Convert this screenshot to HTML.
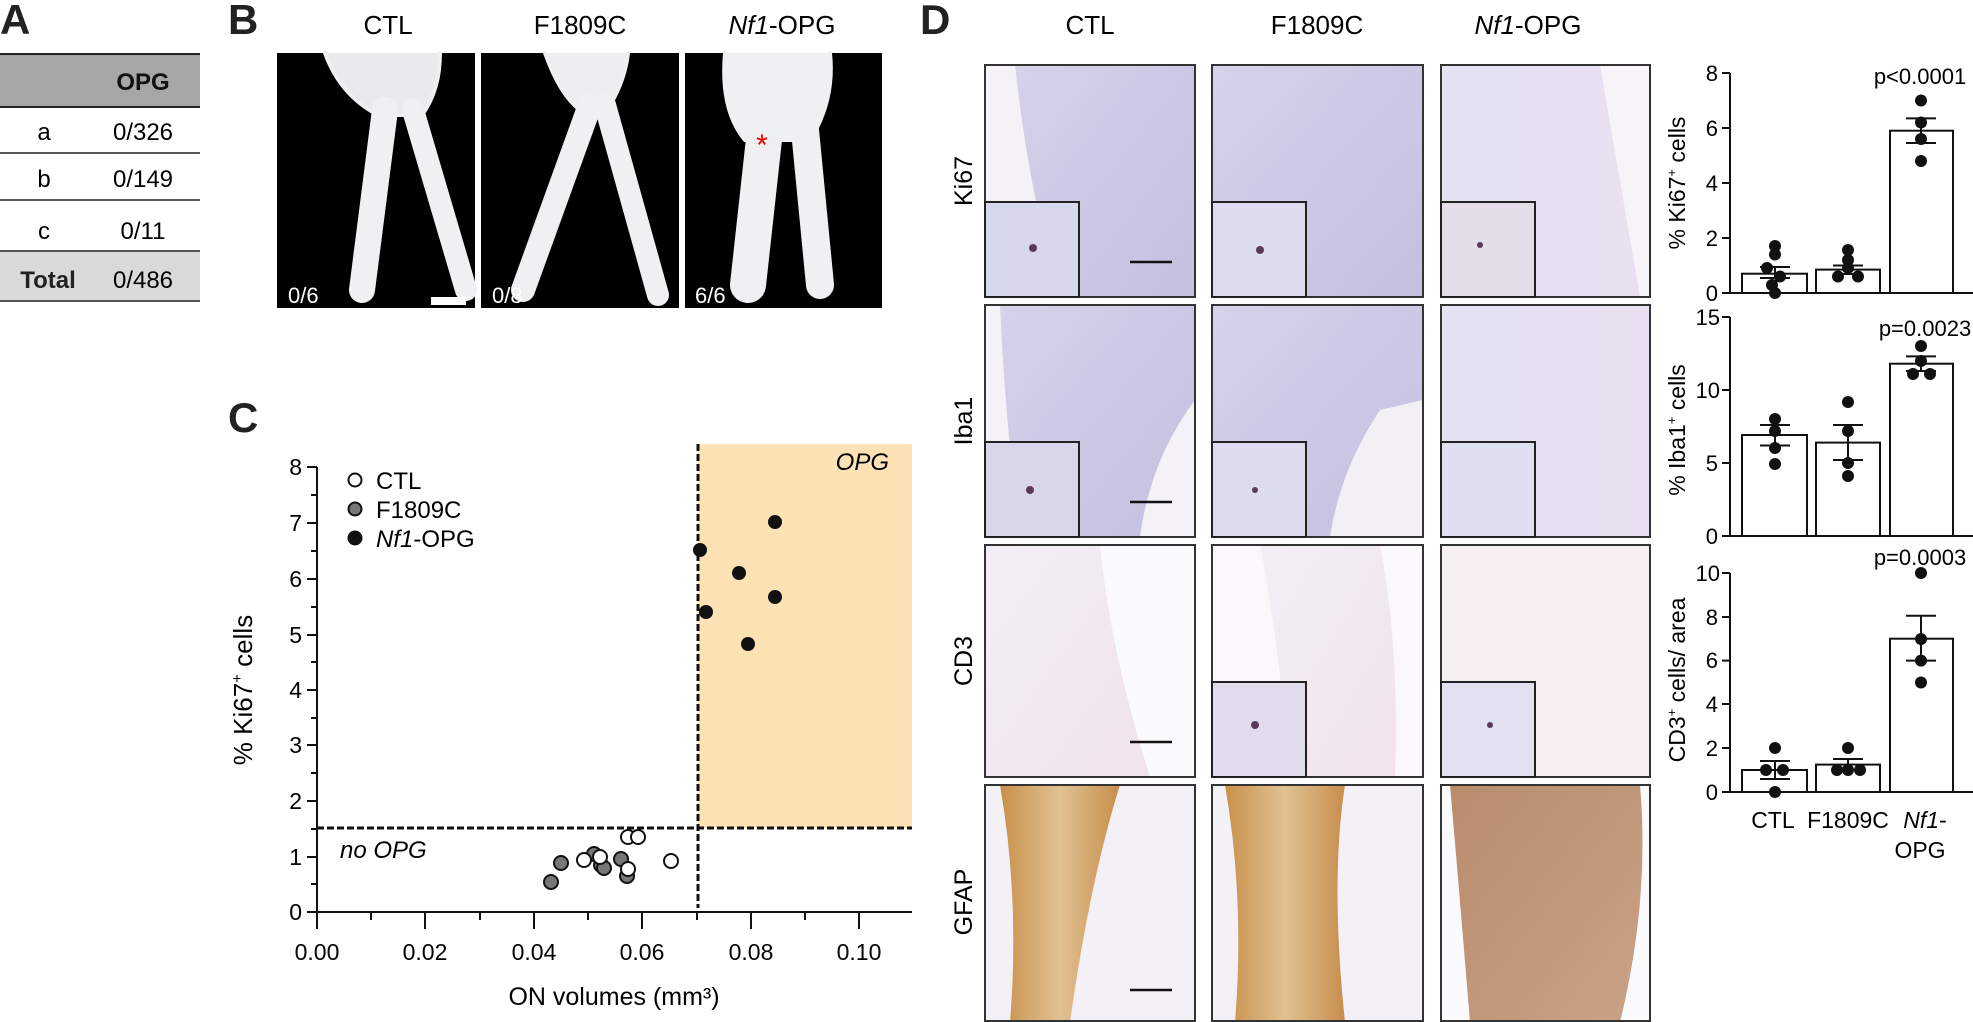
<!DOCTYPE html>
<html><head><meta charset="utf-8"><style>
html,body{margin:0;padding:0;background:#fff;}
svg{display:block;font-family:"Liberation Sans",Arial,sans-serif;}
</style></head><body>
<svg width="1973" height="1022" viewBox="0 0 1973 1022" xmlns="http://www.w3.org/2000/svg">
<defs>
<linearGradient id="lav" x1="0" y1="0" x2="1" y2="1"><stop offset="0" stop-color="#d6d2ea"/><stop offset="1" stop-color="#c3bfdf"/></linearGradient>
<linearGradient id="lav3" x1="0" y1="0" x2="1" y2="0"><stop offset="0" stop-color="#e3e3f2"/><stop offset="1" stop-color="#eadff0"/></linearGradient>
<linearGradient id="pinkw" x1="0" y1="0" x2="1" y2="1"><stop offset="0" stop-color="#f3eef6"/><stop offset="1" stop-color="#f1e3ea"/></linearGradient>
<linearGradient id="brown" x1="0" y1="0" x2="1" y2="0"><stop offset="0" stop-color="#c8904a"/><stop offset="0.5" stop-color="#e0c193"/><stop offset="1" stop-color="#c88e4c"/></linearGradient>
<linearGradient id="brown3" x1="0" y1="0" x2="1" y2="1"><stop offset="0" stop-color="#b98c6c"/><stop offset="1" stop-color="#c9a286"/></linearGradient>
</defs>

<!-- Panel A -->
<text x="0" y="34" font-size="42" font-weight="bold" fill="#222">A</text>
<rect x="0" y="54" width="200" height="53" fill="#a6a6a6"/>
<line x1="0" y1="54" x2="200" y2="54" stroke="#222" stroke-width="2"/>
<line x1="0" y1="107" x2="200" y2="107" stroke="#222" stroke-width="2"/>
<text x="143" y="90" font-size="24" font-weight="bold" text-anchor="middle" fill="#111">OPG</text>
<text x="44" y="140" font-size="24" text-anchor="middle">a</text><text x="143" y="140" font-size="24" text-anchor="middle">0/326</text>
<line x1="0" y1="153" x2="200" y2="153" stroke="#222" stroke-width="1.5"/>
<text x="44" y="187" font-size="24" text-anchor="middle">b</text><text x="143" y="187" font-size="24" text-anchor="middle">0/149</text>
<line x1="0" y1="200" x2="200" y2="200" stroke="#222" stroke-width="1.5"/>
<text x="44" y="239" font-size="24" text-anchor="middle">c</text><text x="143" y="239" font-size="24" text-anchor="middle">0/11</text>
<rect x="0" y="251" width="200" height="50" fill="#d9d9d9"/>
<line x1="0" y1="251" x2="200" y2="251" stroke="#222" stroke-width="1.5"/>
<line x1="0" y1="301" x2="200" y2="301" stroke="#222" stroke-width="1.5"/>
<text x="48" y="288" font-size="24" font-weight="bold" text-anchor="middle" fill="#222">Total</text><text x="143" y="288" font-size="24" text-anchor="middle">0/486</text>

<!-- Panel B -->
<text x="228" y="34" font-size="42" font-weight="bold" fill="#222">B</text>
<text x="388" y="34" font-size="26" text-anchor="middle">CTL</text>
<text x="580" y="34" font-size="26" text-anchor="middle">F1809C</text>
<text x="782" y="34" font-size="26" text-anchor="middle"><tspan font-style="italic">Nf1</tspan>-OPG</text>
<rect x="277" y="53" width="198" height="255" fill="#000"/>
<rect x="481" y="53" width="198" height="255" fill="#000"/>
<rect x="685" y="53" width="197" height="255" fill="#000"/>
<g fill="none" stroke="#eef0f2" stroke-linecap="round">
<path d="M325 53 Q 340 95 378 115 L 422 115 Q 440 90 440 53" fill="#e8eaec" stroke-width="4"/>
<path d="M385 110 L 362 290" stroke-width="26"/>
<path d="M413 110 L 466 290" stroke-width="22"/>
<path d="M545 53 Q 560 95 580 110 L 610 105 Q 625 80 628 53" fill="#eceeef" stroke-width="4"/>
<path d="M590 105 L 523 290" stroke-width="24"/>
<path d="M605 105 L 658 295" stroke-width="22"/>
<path d="M725 53 Q 720 110 745 140 L 810 140 Q 835 100 830 53" fill="#eef0f1" stroke-width="4"/>
<path d="M765 130 L 748 285" stroke-width="36"/>
<path d="M805 130 L 820 285" stroke-width="28"/>
</g>
<text x="762" y="155" font-size="30" fill="#e00" text-anchor="middle">*</text>
<rect x="431" y="297" width="35" height="8" fill="#fff"/>
<text x="288" y="303" font-size="22" fill="#fff">0/6</text>
<text x="492" y="303" font-size="22" fill="#fff">0/8</text>
<text x="695" y="303" font-size="22" fill="#fff">6/6</text>

<!-- Panel C -->
<text x="228" y="432" font-size="42" font-weight="bold" fill="#222">C</text>
<rect x="698" y="444" width="214" height="384" fill="#fde2b6"/>
<text x="889" y="470" font-size="24" font-style="italic" text-anchor="end">OPG</text>
<line x1="317" y1="828" x2="912" y2="828" stroke="#111" stroke-width="3" stroke-dasharray="7,3"/>
<line x1="698" y1="444" x2="698" y2="908" stroke="#111" stroke-width="3" stroke-dasharray="7,3"/>
<g stroke="#111" stroke-width="2">
<line x1="317" y1="467" x2="317" y2="912"/><line x1="307" y1="912" x2="912" y2="912"/>
<line x1="307" y1="467" x2="317" y2="467"/><line x1="307" y1="523" x2="317" y2="523"/><line x1="307" y1="579" x2="317" y2="579"/><line x1="307" y1="635" x2="317" y2="635"/><line x1="307" y1="690" x2="317" y2="690"/><line x1="307" y1="745" x2="317" y2="745"/><line x1="307" y1="801" x2="317" y2="801"/><line x1="307" y1="857" x2="317" y2="857"/>
<line x1="311" y1="495" x2="317" y2="495"/><line x1="311" y1="551" x2="317" y2="551"/><line x1="311" y1="607" x2="317" y2="607"/><line x1="311" y1="662" x2="317" y2="662"/><line x1="311" y1="718" x2="317" y2="718"/><line x1="311" y1="773" x2="317" y2="773"/><line x1="311" y1="829" x2="317" y2="829"/><line x1="311" y1="884" x2="317" y2="884"/>
<line x1="317" y1="912" x2="317" y2="929"/><line x1="425" y1="912" x2="425" y2="929"/><line x1="534" y1="912" x2="534" y2="929"/><line x1="642" y1="912" x2="642" y2="929"/><line x1="751" y1="912" x2="751" y2="929"/><line x1="859" y1="912" x2="859" y2="929"/>
<line x1="371" y1="912" x2="371" y2="920"/><line x1="480" y1="912" x2="480" y2="920"/><line x1="588" y1="912" x2="588" y2="920"/><line x1="697" y1="912" x2="697" y2="920"/><line x1="805" y1="912" x2="805" y2="920"/>
</g>
<g font-size="23" text-anchor="end">
<text x="302" y="475">8</text><text x="302" y="531">7</text><text x="302" y="587">6</text><text x="302" y="643">5</text><text x="302" y="698">4</text><text x="302" y="753">3</text><text x="302" y="809">2</text><text x="302" y="865">1</text><text x="302" y="920">0</text>
</g>
<g font-size="23" text-anchor="middle">
<text x="317" y="960">0.00</text><text x="425" y="960">0.02</text><text x="534" y="960">0.04</text><text x="642" y="960">0.06</text><text x="751" y="960">0.08</text><text x="859" y="960">0.10</text>
</g>
<text x="614" y="1005" font-size="25" text-anchor="middle">ON volumes  (mm³)</text>
<text transform="translate(252,690) rotate(-90)" font-size="26" text-anchor="middle">% Ki67<tspan font-size="15" dy="-10">+</tspan><tspan dy="10"> cells</tspan></text>
<text x="340" y="858" font-size="24" font-style="italic">no OPG</text>
<g stroke="#111" stroke-width="2">
<circle cx="355" cy="480" r="6.5" fill="#fff"/><circle cx="355" cy="509" r="6.5" fill="#777"/><circle cx="355" cy="538" r="6.5" fill="#111"/>
</g>
<g font-size="24"><text x="376" y="489">CTL</text><text x="376" y="518">F1809C</text><text x="376" y="547"><tspan font-style="italic">Nf1</tspan>-OPG</text></g>
<g fill="#111">
<circle cx="700" cy="550" r="7"/><circle cx="706" cy="612" r="7"/><circle cx="739" cy="573" r="7"/><circle cx="748" cy="644" r="7"/><circle cx="775" cy="522" r="7"/><circle cx="775" cy="597" r="7"/>
</g>
<g fill="#777" stroke="#111" stroke-width="2">
<circle cx="551" cy="882" r="7"/><circle cx="561" cy="863" r="7"/><circle cx="594" cy="854" r="7"/><circle cx="601" cy="865" r="7"/><circle cx="604" cy="868" r="7"/><circle cx="621" cy="859" r="7"/><circle cx="627" cy="876" r="7"/>
</g>
<g fill="#fff" stroke="#111" stroke-width="2">
<circle cx="584" cy="860" r="7"/><circle cx="600" cy="857" r="7"/><circle cx="628" cy="837" r="7"/><circle cx="638" cy="837" r="7"/><circle cx="628" cy="869" r="7"/><circle cx="671" cy="861" r="7"/>
</g>

<!-- Panel D -->
<text x="920" y="34" font-size="42" font-weight="bold" fill="#222">D</text>
<text x="1090" y="34" font-size="26" text-anchor="middle">CTL</text>
<text x="1317" y="34" font-size="26" text-anchor="middle">F1809C</text>
<text x="1528" y="34" font-size="26" text-anchor="middle"><tspan font-style="italic">Nf1</tspan>-OPG</text>
<g font-size="25" text-anchor="middle">
<text transform="translate(972,181) rotate(-90)">Ki67</text>
<text transform="translate(972,421) rotate(-90)">Iba1</text>
<text transform="translate(972,661) rotate(-90)">CD3</text>
<text transform="translate(972,902) rotate(-90)">GFAP</text>
</g>
<rect x="985" y="65" width="210" height="232" fill="#f4f2f6"/>
<path d="M1015 65 L1195 65 L1195 297 L1060 297 Q1030 200 1015 65Z" fill="url(#lav)"/>
<rect x="1212" y="65" width="211" height="232" fill="url(#lav)"/>
<path d="M1212 200 Q1240 260 1230 297 L1212 297Z" fill="#f1eef3"/>
<rect x="1441" y="65" width="209" height="232" fill="url(#lav3)"/>
<path d="M1600 65 L1650 65 L1650 297 L1640 297Z" fill="#f6f4f8"/>
<rect x="985" y="305" width="210" height="232" fill="#f4f2f6"/>
<path d="M1000 305 L1195 305 L1195 400 Q1150 460 1140 537 L1020 537 Q1005 420 1000 305Z" fill="url(#lav)"/>
<rect x="1212" y="305" width="211" height="232" fill="url(#lav)"/>
<path d="M1380 410 Q1340 470 1330 537 L1423 537 L1423 400Z" fill="#f2f0f5"/>
<rect x="1441" y="305" width="209" height="232" fill="url(#lav3)"/>
<rect x="985" y="545" width="210" height="232" fill="#fbfafc"/>
<path d="M985 545 L1100 545 Q1110 650 1150 777 L985 777Z" fill="url(#pinkw)"/>
<rect x="1212" y="545" width="211" height="232" fill="#faf8fb"/>
<path d="M1260 545 L1380 545 Q1400 650 1395 777 L1290 777 Q1280 650 1260 545Z" fill="url(#pinkw)"/>
<rect x="1441" y="545" width="209" height="232" fill="#f7eef2"/>
<rect x="985" y="785" width="210" height="237" fill="#f3f1f6"/>
<path d="M1000 785 L1120 785 Q1090 880 1070 1022 L1010 1022 Q1020 900 1000 785Z" fill="url(#brown)"/>
<rect x="1212" y="785" width="211" height="237" fill="#f3f1f6"/>
<path d="M1225 785 L1345 785 Q1330 880 1345 1022 L1235 1022 Q1245 900 1225 785Z" fill="url(#brown)"/>
<rect x="1441" y="785" width="209" height="237" fill="#fbfafc"/>
<path d="M1450 785 L1640 785 Q1650 900 1620 1022 L1470 1022 Q1460 900 1450 785Z" fill="url(#brown3)"/>
<g fill="none" stroke="#333" stroke-width="2">
<rect x="985" y="65" width="210" height="232"/><rect x="1212" y="65" width="211" height="232"/><rect x="1441" y="65" width="209" height="232"/>
<rect x="985" y="305" width="210" height="232"/><rect x="1212" y="305" width="211" height="232"/><rect x="1441" y="305" width="209" height="232"/>
<rect x="985" y="545" width="210" height="232"/><rect x="1212" y="545" width="211" height="232"/><rect x="1441" y="545" width="209" height="232"/>
<rect x="985" y="785" width="210" height="236"/><rect x="1212" y="785" width="211" height="236"/><rect x="1441" y="785" width="209" height="236"/>
</g>
<g stroke="#222" stroke-width="2">
<rect x="985" y="202" width="94" height="95" fill="#d7d8ec"/><rect x="1212" y="202" width="94" height="95" fill="#dcdcee"/><rect x="1441" y="202" width="94" height="95" fill="#e2dde8"/>
<rect x="985" y="442" width="94" height="95" fill="#d9d6ea"/><rect x="1212" y="442" width="94" height="95" fill="#dcdcee"/><rect x="1441" y="442" width="94" height="95" fill="#dfe0ef"/>
<rect x="1212" y="682" width="94" height="95" fill="#e0dcec"/><rect x="1441" y="682" width="94" height="95" fill="#e3e1ef"/>
</g>
<g fill="#5a3a5a">
<circle cx="1033" cy="248" r="4"/><circle cx="1260" cy="250" r="4"/><circle cx="1480" cy="245" r="3"/><circle cx="1030" cy="490" r="4"/><circle cx="1255" cy="490" r="3"/><circle cx="1255" cy="725" r="4"/><circle cx="1490" cy="725" r="3"/>
</g>
<g stroke="#111" stroke-width="2.5">
<line x1="1130" y1="262" x2="1172" y2="262"/><line x1="1130" y1="502" x2="1172" y2="502"/><line x1="1130" y1="742" x2="1172" y2="742"/><line x1="1130" y1="990" x2="1172" y2="990"/>
</g>

<!-- Bar charts -->
<g stroke="#111" stroke-width="2" fill="none">
<line x1="1730" y1="73" x2="1730" y2="293"/><line x1="1722" y1="293" x2="1973" y2="293"/>
<line x1="1722" y1="73" x2="1730" y2="73"/><line x1="1722" y1="128" x2="1730" y2="128"/><line x1="1722" y1="183" x2="1730" y2="183"/><line x1="1722" y1="238" x2="1730" y2="238"/>
<rect x="1742" y="273.7" width="65" height="19.3" fill="#fff"/><rect x="1816" y="269.6" width="64" height="23.4" fill="#fff"/><rect x="1890" y="130.7" width="63" height="162.3" fill="#fff"/>
<line x1="1730" y1="317" x2="1730" y2="536"/><line x1="1722" y1="536" x2="1973" y2="536"/>
<line x1="1722" y1="317" x2="1730" y2="317"/><line x1="1722" y1="390" x2="1730" y2="390"/><line x1="1722" y1="463" x2="1730" y2="463"/>
<rect x="1742" y="435" width="65" height="101" fill="#fff"/><rect x="1816" y="442.6" width="64" height="93.4" fill="#fff"/><rect x="1890" y="363.7" width="63" height="172.3" fill="#fff"/>
<line x1="1730" y1="573" x2="1730" y2="792"/><line x1="1722" y1="792" x2="1973" y2="792"/>
<line x1="1722" y1="573" x2="1730" y2="573"/><line x1="1722" y1="617" x2="1730" y2="617"/><line x1="1722" y1="660.6" x2="1730" y2="660.6"/><line x1="1722" y1="704" x2="1730" y2="704"/><line x1="1722" y1="748" x2="1730" y2="748"/>
<rect x="1742" y="770" width="65" height="22" fill="#fff"/><rect x="1816" y="764.6" width="64" height="27.4" fill="#fff"/><rect x="1890" y="638.7" width="63" height="153.3" fill="#fff"/>
</g>
<g fill="#111">
<circle cx="1775" cy="246" r="6"/><circle cx="1775" cy="254.5" r="6"/><circle cx="1767" cy="268" r="6"/><circle cx="1780" cy="276.5" r="6"/><circle cx="1772" cy="285" r="6"/><circle cx="1775" cy="293" r="6"/>
<circle cx="1848" cy="250" r="6"/><circle cx="1848" cy="260" r="6"/><circle cx="1848" cy="268" r="6"/><circle cx="1838" cy="276.5" r="6"/><circle cx="1858" cy="276.5" r="6"/>
<circle cx="1921" cy="100.5" r="6"/><circle cx="1921" cy="122.5" r="6"/><circle cx="1921" cy="139" r="6"/><circle cx="1921" cy="161" r="6"/>
<circle cx="1775" cy="419" r="6"/><circle cx="1775" cy="431" r="6"/><circle cx="1775" cy="448" r="6"/><circle cx="1775" cy="464" r="6"/>
<circle cx="1848" cy="402" r="6"/><circle cx="1848" cy="431" r="6"/><circle cx="1848" cy="463" r="6"/><circle cx="1848" cy="476" r="6"/>
<circle cx="1921" cy="346" r="6"/><circle cx="1921" cy="361" r="6"/><circle cx="1913" cy="374" r="6"/><circle cx="1930" cy="374" r="6"/>
<circle cx="1775" cy="748" r="6"/><circle cx="1766" cy="770" r="6"/><circle cx="1783" cy="770" r="6"/><circle cx="1775" cy="792" r="6"/>
<circle cx="1848" cy="748" r="6"/><circle cx="1837" cy="770" r="6"/><circle cx="1848" cy="770" r="6"/><circle cx="1860" cy="770" r="6"/>
<circle cx="1921" cy="573" r="6"/><circle cx="1921" cy="639" r="6"/><circle cx="1921" cy="660.6" r="6"/><circle cx="1921" cy="682.5" r="6"/>
</g>
<g stroke="#111" stroke-width="2">
<line x1="1775" y1="267" x2="1775" y2="278"/><line x1="1760" y1="267" x2="1790" y2="267"/><line x1="1760" y1="278" x2="1790" y2="278"/>
<line x1="1848" y1="265.5" x2="1848" y2="274"/><line x1="1833" y1="265.5" x2="1863" y2="265.5"/><line x1="1833" y1="274" x2="1863" y2="274"/>
<line x1="1921" y1="118.4" x2="1921" y2="143"/><line x1="1906" y1="118.4" x2="1936" y2="118.4"/><line x1="1906" y1="143" x2="1936" y2="143"/>
<line x1="1775" y1="425" x2="1775" y2="445.5"/><line x1="1760" y1="425" x2="1790" y2="425"/><line x1="1760" y1="445.5" x2="1790" y2="445.5"/>
<line x1="1848" y1="425" x2="1848" y2="460"/><line x1="1833" y1="425" x2="1863" y2="425"/><line x1="1833" y1="460" x2="1863" y2="460"/>
<line x1="1921" y1="356.4" x2="1921" y2="371"/><line x1="1906" y1="356.4" x2="1936" y2="356.4"/><line x1="1906" y1="371" x2="1936" y2="371"/>
<line x1="1775" y1="761" x2="1775" y2="779"/><line x1="1760" y1="761" x2="1790" y2="761"/><line x1="1760" y1="779" x2="1790" y2="779"/>
<line x1="1848" y1="759" x2="1848" y2="770"/><line x1="1833" y1="759" x2="1863" y2="759"/>
<line x1="1921" y1="615.7" x2="1921" y2="660.6"/><line x1="1906" y1="615.7" x2="1936" y2="615.7"/><line x1="1906" y1="660.6" x2="1936" y2="660.6"/>
</g>
<g font-size="22" text-anchor="end">
<text x="1718" y="81">8</text><text x="1718" y="136">6</text><text x="1718" y="191">4</text><text x="1718" y="246">2</text><text x="1718" y="301">0</text>
<text x="1720" y="325">15</text><text x="1720" y="398">10</text><text x="1718" y="471">5</text><text x="1718" y="544">0</text>
<text x="1720" y="581">10</text><text x="1718" y="625">8</text><text x="1718" y="668">6</text><text x="1718" y="712">4</text><text x="1718" y="756">2</text><text x="1718" y="800">0</text>
</g>
<g font-size="22" text-anchor="middle">
<text x="1920" y="84">p&lt;0.0001</text><text x="1925" y="336">p=0.0023</text><text x="1920" y="565">p=0.0003</text>
</g>
<g font-size="23" text-anchor="middle">
<text transform="translate(1685,183) rotate(-90)">% Ki67<tspan font-size="13" dy="-9">+</tspan><tspan dy="9"> cells</tspan></text>
<text transform="translate(1685,430) rotate(-90)">% Iba1<tspan font-size="13" dy="-9">+</tspan><tspan dy="9"> cells</tspan></text>
<text transform="translate(1685,680) rotate(-90)">CD3<tspan font-size="13" dy="-9">+</tspan><tspan dy="9"> cells/ area</tspan></text>
</g>
<g font-size="23" text-anchor="middle">
<text x="1773" y="828">CTL</text><text x="1848" y="828">F1809C</text><text x="1925" y="828"><tspan font-style="italic">Nf1</tspan>-</text><text x="1920" y="858">OPG</text>
</g>
</svg>
</body></html>
